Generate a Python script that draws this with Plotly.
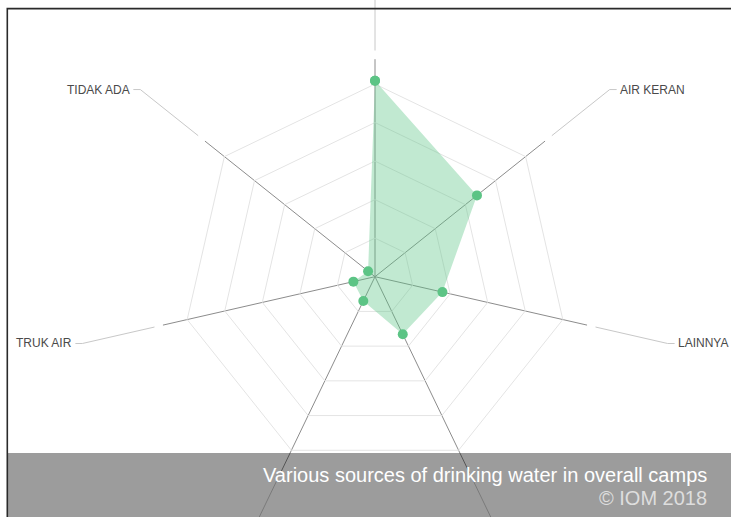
import math
import plotly.graph_objects as go

# ---- data ----
categories = ["AIR KEMASAN", "AIR KERAN", "LAINNYA", "SUMUR", "MATA AIR", "TRUK AIR", "TIDAK ADA"]
values = [101.7, 67.7, 35.9, 33.2, 14.0, 11.5, 4.6]
ring_ticks = [20, 40, 60, 80, 100]
radial_max = 112.9
caption = "Various sources of drinking water in overall camps"
credit = "\u00a9 IOM 2018"

# ---- layout geometry (pixels) ----
W, H = 731, 517
CX, CY = 375, 276.7
R_PX = 217.5
FONT = "Liberation Sans, Arial, sans-serif"


def fx(x):
    return x / W


def fy(y):
    return 1 - y / H


fig = go.Figure()
fig.add_trace(go.Scatterpolar(
    r=values + values[:1],
    theta=categories + categories[:1],
    mode="markers",
    fill="toself",
    fillcolor="rgba(92,196,133,0.38)",
    line=dict(color="rgba(92,196,133,0.0)", width=0),
    marker=dict(size=10, color="#5cc485"),
    hoverinfo="r+theta",
    showlegend=False,
))

shapes = []
annotations = []
n = len(categories)
for i, name in enumerate(categories):
    ang = math.radians(90 - i * 360 / n)
    c, s = math.cos(ang), math.sin(ang)
    r1, r2 = R_PX * 1.04, R_PX * 1.38
    x1, y1 = CX + r1 * c, CY - r1 * s
    x2, y2 = CX + r2 * c, CY - r2 * s
    shapes.append(dict(type="line", xref="paper", yref="paper",
                       x0=fx(x1), y0=fy(y1), x1=fx(x2), y1=fy(y2),
                       line=dict(color="#c8c8c8", width=1), layer="above"))
    visible = 0 < y2 < H - 70
    if abs(c) > 0.05:
        sign = 1 if c > 0 else -1
        x3 = x2 + sign * 7
        shapes.append(dict(type="line", xref="paper", yref="paper",
                           x0=fx(x2), y0=fy(y2), x1=fx(x3), y1=fy(y2),
                           line=dict(color="#c8c8c8", width=1), layer="above"))
        if visible:
            annotations.append(dict(x=fx(x3 + sign * 1), y=fy(y2), xref="paper", yref="paper",
                                    text=name, showarrow=False,
                                    xanchor="left" if sign > 0 else "right", yanchor="middle",
                                    font=dict(family=FONT, size=12, color="#4a4a4a")))

# caption overlay
shapes.append(dict(type="rect", xref="paper", yref="paper",
                   x0=fx(8), x1=1.02, y0=-0.02, y1=fy(453),
                   fillcolor="rgba(0,0,0,0.39)", line=dict(width=0), layer="above"))
# frame
shapes.append(dict(type="rect", xref="paper", yref="paper",
                   x0=fx(7.3), x1=1.02, y0=-0.02, y1=fy(8.6),
                   fillcolor="rgba(0,0,0,0)", line=dict(color="#2a2a2a", width=1.6), layer="above"))

annotations.append(dict(x=fx(709), y=fy(475), xref="paper", yref="paper",
                        text=caption, showarrow=False, xanchor="right", yanchor="middle",
                        font=dict(family=FONT, size=20, color="#ffffff")))
annotations.append(dict(x=fx(709), y=fy(498), xref="paper", yref="paper",
                        text=credit, showarrow=False, xanchor="right", yanchor="middle",
                        font=dict(family=FONT, size=20, color="#dedede")))

fig.update_layout(
    width=W, height=H,
    margin=dict(l=0, r=0, t=0, b=0),
    paper_bgcolor="white",
    polar=dict(
        domain=dict(x=[(CX - R_PX) / W, (CX + R_PX) / W],
                    y=[1 - (CY + R_PX) / H, 1 - (CY - R_PX) / H]),
        gridshape="linear",
        bgcolor="white",
        radialaxis=dict(range=[0, radial_max], tickvals=ring_ticks,
                        showticklabels=False, ticks="", showline=False,
                        gridcolor="#e4e4e4", gridwidth=1),
        angularaxis=dict(type="category", categoryarray=categories,
                         rotation=90, direction="clockwise",
                         showticklabels=False, ticks="", showline=False,
                         gridcolor="#8c8c8c", gridwidth=1),
    ),
    shapes=shapes,
    annotations=annotations,
    showlegend=False,
)

fig.write_html(
    "out.html",
    config={"displayModeBar": False},
    post_script="document.body.style.margin='0';document.body.style.overflow='hidden';",
)
